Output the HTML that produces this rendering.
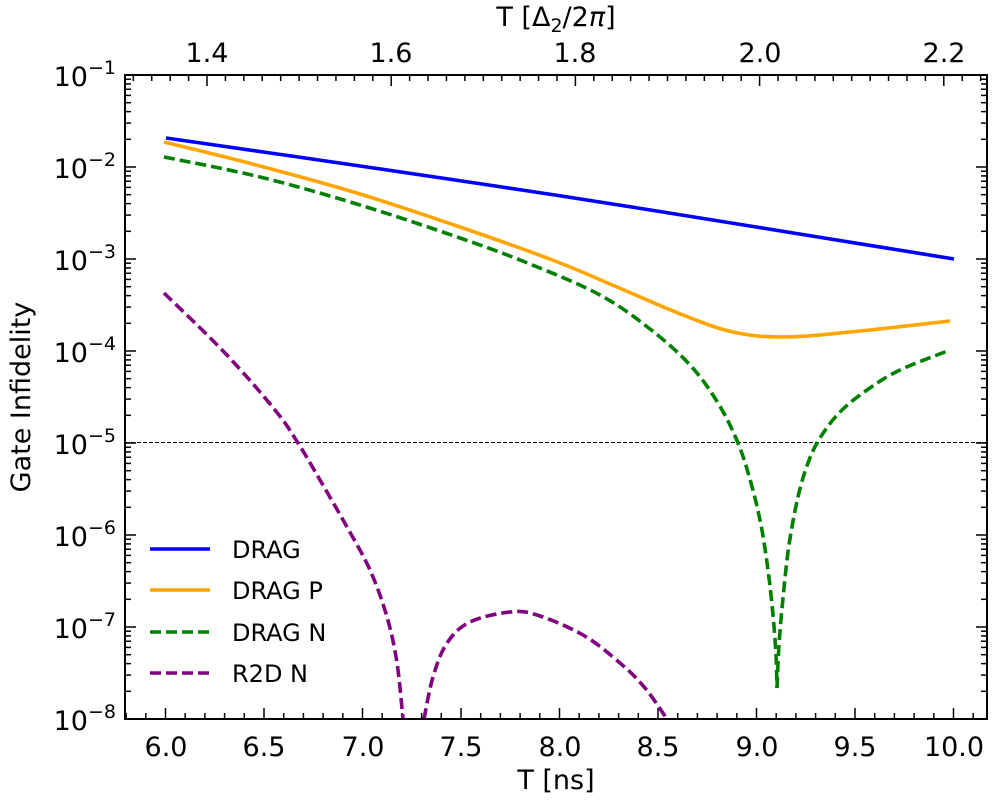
<!DOCTYPE html>
<html><head><meta charset="utf-8"><style>
html,body{margin:0;padding:0;background:#fff;}
svg{display:block;font-family:"DejaVu Sans","Liberation Sans",sans-serif;}
</style></head><body>
<svg id="s" width="996" height="801" viewBox="0 0 996 801" xmlns="http://www.w3.org/2000/svg">
<rect width="996" height="801" fill="#fff"/>
<g id="ticks" stroke="#000" stroke-width="1.5"></g>
<line x1="125" y1="442.5" x2="987" y2="442.5" stroke="#000" stroke-width="1" stroke-dasharray="4,2"/>
<g id="curves" fill="none" stroke-width="3.6"></g>
<rect x="125" y="75" width="862" height="644" fill="none" stroke="#000" stroke-width="2"/>
<g font-size="27" fill="#000">
<text x="166" y="756" text-anchor="middle">6.0</text>
<text x="264" y="756" text-anchor="middle">6.5</text>
<text x="363" y="756" text-anchor="middle">7.0</text>
<text x="461" y="756" text-anchor="middle">7.5</text>
<text x="560" y="756" text-anchor="middle">8.0</text>
<text x="658" y="756" text-anchor="middle">8.5</text>
<text x="757" y="756" text-anchor="middle">9.0</text>
<text x="855" y="756" text-anchor="middle">9.5</text>
<text x="954" y="756" text-anchor="middle">10.0</text>
<text x="207" y="62" text-anchor="middle">1.4</text>
<text x="391" y="62" text-anchor="middle">1.6</text>
<text x="575" y="62" text-anchor="middle">1.8</text>
<text x="760" y="62" text-anchor="middle">2.0</text>
<text x="944" y="62" text-anchor="middle">2.2</text>
<text x="116" y="86" text-anchor="end">10<tspan dy="-12" font-size="19">−1</tspan></text>
<text x="116" y="178" text-anchor="end">10<tspan dy="-12" font-size="19">−2</tspan></text>
<text x="116" y="270" text-anchor="end">10<tspan dy="-12" font-size="19">−3</tspan></text>
<text x="116" y="362" text-anchor="end">10<tspan dy="-12" font-size="19">−4</tspan></text>
<text x="116" y="454" text-anchor="end">10<tspan dy="-12" font-size="19">−5</tspan></text>
<text x="116" y="546" text-anchor="end">10<tspan dy="-12" font-size="19">−6</tspan></text>
<text x="116" y="638" text-anchor="end">10<tspan dy="-12" font-size="19">−7</tspan></text>
<text x="116" y="730" text-anchor="end">10<tspan dy="-12" font-size="19">−8</tspan></text>
<text x="556" y="789" text-anchor="middle">T [ns]</text>
<text x="556" y="26" text-anchor="middle">T [Δ<tspan dy="6" font-size="19">2</tspan><tspan dy="-6">/2</tspan><tspan font-style="italic">π</tspan>]</text>
<text transform="translate(30,397) rotate(-90)" text-anchor="middle">Gate Infidelity</text>
</g>
<g font-size="24">
<line x1="150" y1="549" x2="210" y2="549" stroke="#0000ff" stroke-width="3.6"/>
<text x="232" y="558">DRAG</text>
<line x1="150" y1="590" x2="210" y2="590" stroke="#ffa500" stroke-width="3.6"/>
<text x="232" y="599">DRAG P</text>
<line x1="150" y1="632" x2="210" y2="632" stroke="#008000" stroke-width="3.6" stroke-dasharray="11,5"/>
<text x="232" y="641">DRAG N</text>
<line x1="150" y1="673" x2="210" y2="673" stroke="#800080" stroke-width="3.6" stroke-dasharray="11,5"/>
<text x="232" y="682">R2D N</text>
</g>
</svg>
<script>
var g=document.getElementById('ticks'),ns='http://www.w3.org/2000/svg';
function L(a,b,c,d){var l=document.createElementNS(ns,'line');l.setAttribute('x1',a);l.setAttribute('y1',b);l.setAttribute('x2',c);l.setAttribute('y2',d);g.appendChild(l);}
for(var i=0;i<7;i++){var b=75+(i+1)*92;L(125,b,136,b);L(987,b,976,b);
 for(var k=2;k<10;k++){var y=b-Math.log10(k)*92;L(125,y,131,y);L(987,y,981,y);}}
for(var v=58;v<=101;v++){var x=165.5+(v/10-6)*197;var maj=(v%5==0);L(x,719,x,maj?708:713);}
for(var v=66;v<=114;v++){var x=207+(v/50-1.4)*921;if(x<126||x>986)continue;var maj=(v%10==0);L(x,75,x,maj?86:81);}
var cg=document.getElementById('curves');
function P(pts,col,dash){var d='M'+pts[0][0]+','+pts[0][1];
 for(var i=0;i<pts.length-1;i++){var p0=pts[i-1]||pts[i],p1=pts[i],p2=pts[i+1],p3=pts[i+2]||p2;
  var t=0.17;
  d+=' C'+(p1[0]+(p2[0]-p0[0])*t)+','+(p1[1]+(p2[1]-p0[1])*t)+' '+(p2[0]-(p3[0]-p1[0])*t)+','+(p2[1]-(p3[1]-p1[1])*t)+' '+p2[0]+','+p2[1];}
 var e=document.createElementNS(ns,'path');e.setAttribute('d',d);e.setAttribute('stroke',col);if(dash)e.setAttribute('stroke-dasharray',dash);cg.appendChild(e);}
P([[166,138],[360,166],[555,195],[750,226],[954,259]],'#0000ff');
P([[164,142],[260,166],[360,194],[460,227],[555,261],[617,287],[683,315],[733,332],[783,337],[850,332],[950,321]],'#ffa500');
P([[164,157],[260,177],[360,205],[460,238],[530,264],[600,295],[650,329],[690,365],[718,403],[738,443],[751,483],[761,525],[768,570],[773,615],[776,655],[777,688]],'#008000','11,5');
P([[777,688],[779,645],[783,598],[789,545],[798,497],[808,463],[820,438],[840,412],[867,390],[900,370],[950,350]],'#008000','11,5');
P([[164,293],[225,353],[275,410],[298,443],[320,480],[347,527],[370,570],[387,617],[397,663],[403,719]],'#800080','11,5');
P([[424,719],[433,677],[447,643],[470,622],[510,612],[537,615],[583,635],[620,663],[645,688],[667,719]],'#800080','11,5');
</script>
</body></html>
